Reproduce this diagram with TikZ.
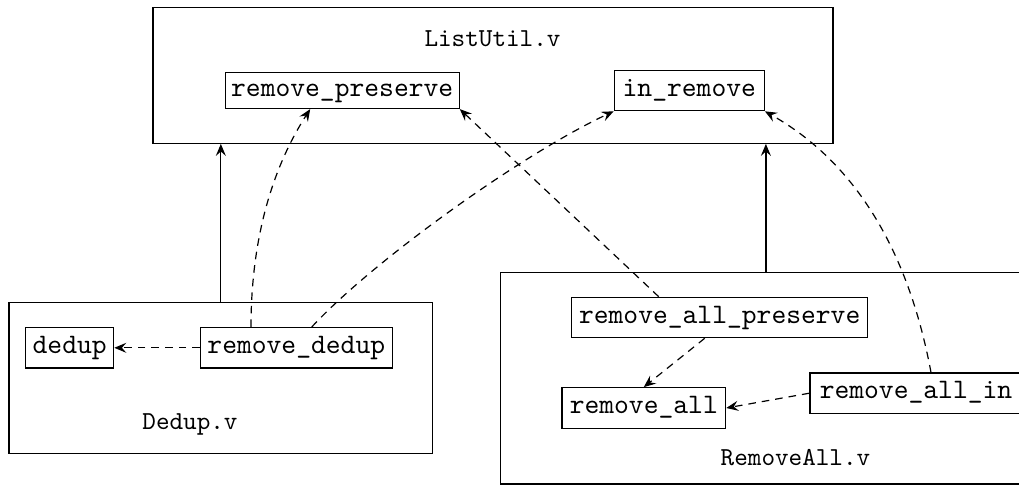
\documentclass[tikz,border=0pt]{standalone}
\usepackage{fontspec}
\setmonofont{lmmono10-regular.otf}
\usetikzlibrary{arrows.meta,calc}
\begin{document}
\begin{tikzpicture}[x=0.5pt,y=-0.5pt,
  framed/.style={draw, line width=0.6pt, inner sep=0pt},
  fn/.style={framed, font=\ttfamily\fontsize{14.1}{17}\selectfont,
    text height=8.74pt, text depth=3.1pt},
  filebox/.style={framed},
  flabel/.style={font=\ttfamily\fontsize{12.95}{15}\selectfont, anchor=base, inner sep=0pt},
  headed/.style={-{Stealth[length=6pt,width=5pt,inset=2.2pt]}, line width=0.6pt},
  dep/.style={headed, dash pattern=on 3.8pt off 3pt},
  incl/.style={headed}]

\useasboundingbox (0,0) rectangle (1019,487);
\clip (0,0) rectangle (1019,487);

% source files
\node[filebox, minimum width=340pt, minimum height=67.9pt] (listutil) at (493,75.4) {};
\node[filebox, minimum width=211.85pt, minimum height=75.3pt] (dedupv) at (220.85,378) {};
\node[filebox, minimum width=265.1pt, minimum height=105.8pt] (removeall) at (765.9,378.2) {};

\node[flabel] (lu) at (492.5,46.6) {ListUtil.v};
\node[flabel] (dv) at (190,429) {Dedup.v};
\node[flabel] (rav) at (795.5,465.4) {RemoveAll.v};

% definitions
\node[fn, minimum width=117pt, minimum height=18pt] (rp) at (342.2,90.5) {remove\_preserve};
\node[fn, minimum width=75pt, minimum height=20pt] (ir) at (689.3,90.7) {in\_remove};
\node[fn, minimum width=44pt, minimum height=20.15pt] (dd) at (69.7,347.8) {dedup};
\node[fn, minimum width=96pt, minimum height=20.15pt] (rd) at (296.3,347.8) {remove\_dedup};
\node[fn, minimum width=148pt, minimum height=20.2pt] (rap) at (719.7,317.5) {remove\_all\_preserve};
\node[fn, minimum width=81.85pt, minimum height=20.3pt] (ra) at (643.8,408) {remove\_all};
\node[fn, minimum width=106pt, minimum height=20.15pt] (rai) at (916,393.2) {remove\_all\_in};

% file imports
\draw[incl] (dedupv.north) -- (dedupv.north |- listutil.south);
\draw[incl] (removeall.north) -- (removeall.north |- listutil.south);

% lemma dependencies
\draw[dep] (rd.west) -- (dd.east);
\draw[dep] ($(rd.north)+(-45.3,0)$) .. controls +(0,-88) and +(-38,59) .. ($(rp.south)+(-32,0)$);
\draw[dep] ($(rd.north)+(15.4,0)$) .. controls +(61,-66) and +(-92,43) .. (ir.south west);
\draw[dep] ($(rap.north)+(-61,0)$) -- (rp.south east);
\draw[dep] ($(rai.north)+(15,0)$) .. controls +(-21,-113) and +(96,54) .. (ir.south east);
\draw[dep] ($(rap.south)+(-15,0)$) -- (ra.north);
\draw[dep] (rai.west) -- (ra.east);
\end{tikzpicture}
\end{document}
